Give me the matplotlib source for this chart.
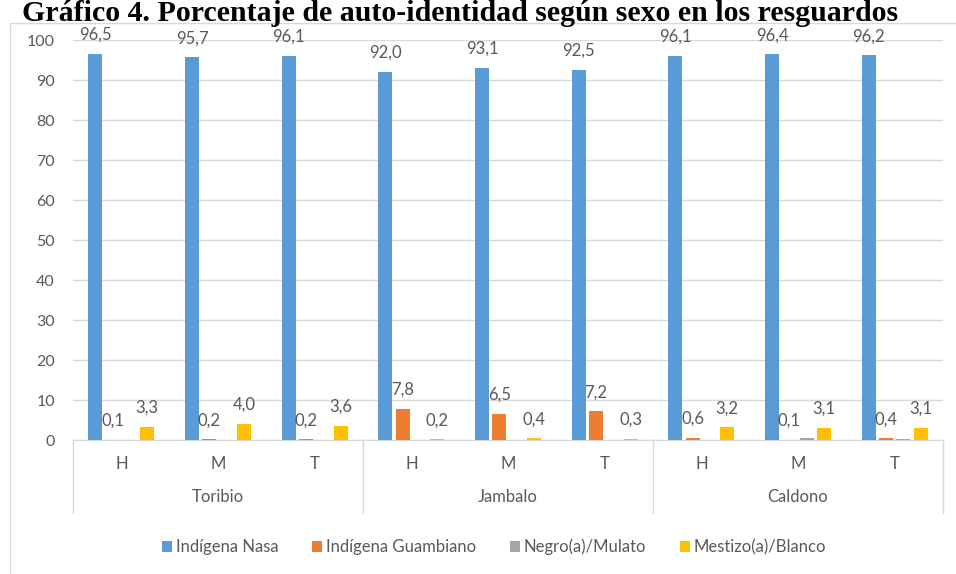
import numpy as np
import matplotlib
matplotlib.use('Agg')
import matplotlib.pyplot as plt
from matplotlib.patches import Rectangle, Patch
import matplotlib.transforms as mtransforms

# datos
resguardos = ['Toribio', 'Jambalo', 'Caldono']
sexos = ['H', 'M', 'T']
series = ['Indígena Nasa', 'Indígena Guambiano', 'Negro(a)/Mulato', 'Mestizo(a)/Blanco']
nasa = [96.5, 95.7, 96.1, 92.0, 93.1, 92.5, 96.1, 96.4, 96.2]
guambiano = [0.1, 0.2, 0.2, 7.8, 6.5, 7.2, 0.6, 0.1, 0.4]
negro = [0.0, 0.0, 0.0, 0.0, 0.0, 0.0, 0.1, 0.4, 0.3]
mestizo = [3.3, 4.0, 3.6, 0.2, 0.4, 0.3, 3.2, 3.1, 3.1]
colores = ['#5B9BD5', '#ED7D31', '#A5A5A5', '#FFC000']
con_etiqueta = [True, True, False, True]

txt = '#595959'
grid = '#D9D9D9'
W, H = 956, 574

fig = plt.figure(figsize=(W / 100, H / 100), dpi=100)
fig.patch.set_facecolor('white')

# marco del grafico
fig.patches.append(Rectangle((10 / W, -0.1), 1.2, 1 - 23 / H + 0.1,
                             transform=fig.transFigure, fill=False,
                             edgecolor=grid, linewidth=1.0, zorder=0))

ax = fig.add_axes([73 / W, (H - 440) / H, 870 / W, 400 / H])
x = np.arange(len(nasa))
paso = 17.3 / 96.7
ancho = 14 / 96.7
valores = [nasa, guambiano, negro, mestizo]
for i, (vals, c) in enumerate(zip(valores, colores)):
    pos = x + (i - 1.5) * paso
    ax.bar(pos, vals, width=ancho, color=c, label=series[i], zorder=3)
    if con_etiqueta[i]:
        for px_, v in zip(pos, vals):
            ax.annotate(f'{v:.1f}'.replace('.', ','), (px_, v), xytext=(0, 10),
                        textcoords='offset points', ha='center', va='baseline',
                        fontsize=12, color=txt, family='Lato')

ax.set_xlim(-0.5, len(nasa) - 0.5)
ax.set_ylim(0, 100)
ax.set_yticks(range(0, 101, 10))
ax.yaxis.grid(True, color=grid, linewidth=1.0, zorder=0)
for s in ['top', 'right', 'left']:
    ax.spines[s].set_visible(False)
ax.spines['bottom'].set_color(grid)
ax.tick_params(axis='y', length=0, pad=13, labelsize=11.5, labelcolor=txt)
ax.tick_params(axis='x', length=0)
ax.set_xticks([])
for lab in ax.get_yticklabels():
    lab.set_family('Lato')

tr = mtransforms.blended_transform_factory(ax.transData, ax.transAxes)
for i in range(len(nasa)):
    ax.text(x[i], -0.06, sexos[i % 3], transform=tr, ha='center', va='center',
            fontsize=12, color=txt, family='Lato')
for g, nombre in enumerate(resguardos):
    ax.text(3 * g + 1, -0.1425, nombre, transform=tr, ha='center', va='center',
            fontsize=12, color=txt, family='Lato')
for xs in [-0.5, 2.5, 5.5, 8.5]:
    ax.plot([xs, xs], [0, -0.1825], transform=tr, color=grid, linewidth=1.0,
            clip_on=False)

handles = [Patch(facecolor=c, label=s) for c, s in zip(colores, series)]
leg = fig.legend(handles=handles, loc='center', bbox_to_anchor=(494 / W, 1 - 547 / H),
                 ncol=4, frameon=False, handlelength=0.6, handleheight=0.7,
                 handletextpad=0.25, columnspacing=2.0,
                 prop={'family': 'Lato', 'size': 12})
for t in leg.get_texts():
    t.set_color(txt)

fig.text(22 / W, 1 - 21 / H,
         'Gráfico 4. Porcentaje de auto-identidad según sexo en los resguardos',
         ha='left', va='baseline', fontsize=21.5, fontweight='bold',
         family='Liberation Serif', color='black', zorder=5)

fig.savefig('out.png', dpi=100)
